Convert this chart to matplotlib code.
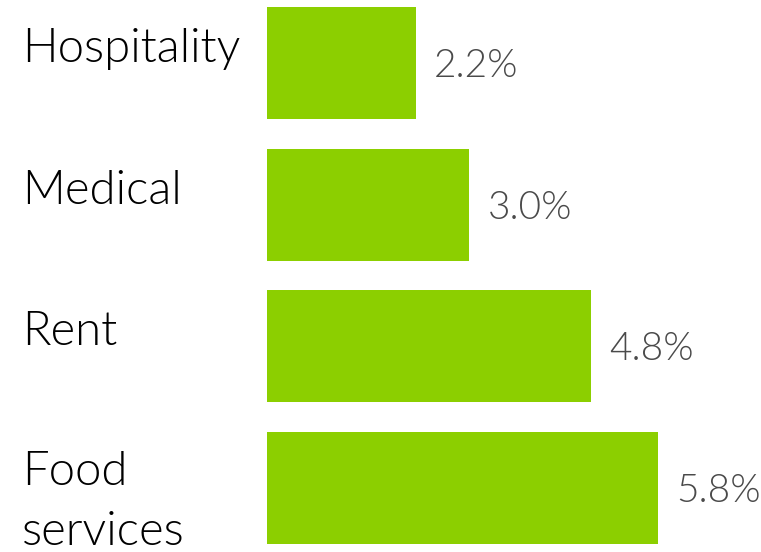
import matplotlib
matplotlib.use("Agg")
import matplotlib.pyplot as plt

categories = ["Hospitality", "Medical", "Rent", "Food\nservices"]
values = [2.2, 3.0, 4.8, 5.8]
value_labels = ["2.2%", "3.0%", "4.8%", "5.8%"]

W, H = 761, 552
fig = plt.figure(figsize=(W / 100, H / 100), dpi=100)
px_per_unit_x = 67.5
left_px = 267
ax = fig.add_axes([left_px / W, 0, 1 - left_px / W, 1])
ypos = list(range(len(categories)))
ax.barh(ypos, values, height=0.79, color="#8ccf00")
ax.set_xlim(0, (W - left_px) / px_per_unit_x)
spacing = 141.67
ax.set_ylim(3 + (H - 488) / spacing, -63 / spacing)
ax.axis("off")

fam = ["Lato", "DejaVu Sans"]
px = 72 / 100  # points per pixel
line_gap = 60
for i, (c, v, lab) in enumerate(zip(categories, values, value_labels)):
    lines = c.split("\n")
    for k, line in enumerate(lines):
        ax.annotate(line, xy=(0, i), xycoords=("figure fraction", "data"),
                    xytext=(22 * px, (1 + (len(lines) - 1) * 2 - k * line_gap) * px),
                    textcoords="offset points",
                    ha="left", va="baseline", fontsize=34, fontfamily=fam,
                    fontweight=300, color="#000000")
    ax.annotate(lab, xy=(v, i), xytext=(18 * px, -14 * px),
                textcoords="offset points", ha="left", va="baseline",
                fontsize=28, fontfamily=fam, fontweight=300,
                color="#4a4a4a")

fig.savefig("out.png", dpi=100)
